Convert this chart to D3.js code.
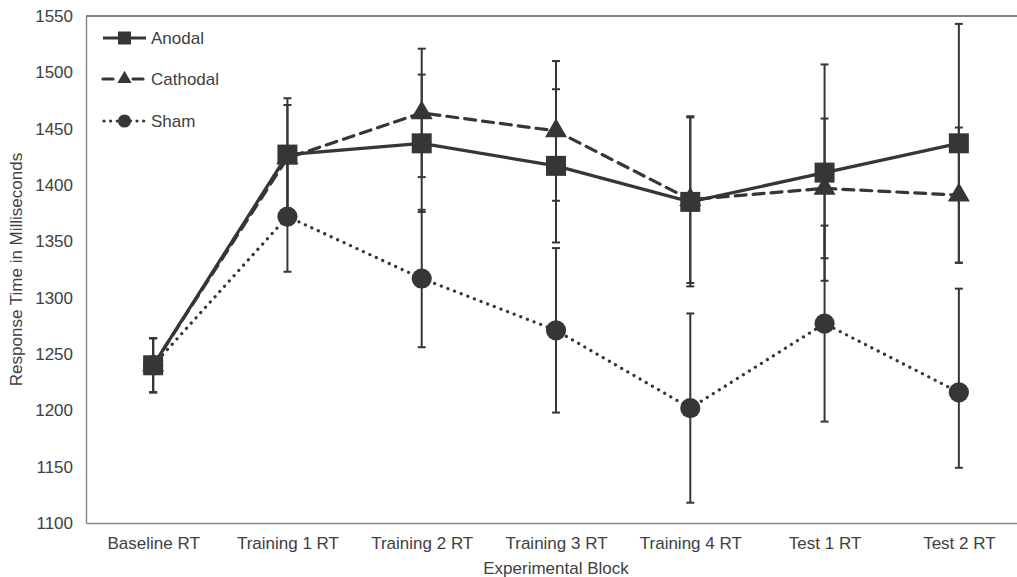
<!DOCTYPE html>
<html>
<head>
<meta charset="utf-8">
<script src="https://cdn.jsdelivr.net/npm/d3@7"></script>
<style>
    body { margin: 0; background: #fff; }
    #plot_rt text { font-family: "Liberation Sans", Arial, sans-serif; fill: #404040; }
</style>
</head>
<body>
<div id="plot_rt"></div>
<script>
// data
const categories = ["Baseline RT", "Training 1 RT", "Training 2 RT", "Training 3 RT", "Training 4 RT", "Test 1 RT", "Test 2 RT"];
const anodal = [1240, 1427, 1437, 1417, 1385, 1411, 1437];
const anodal_err = [24, 50, 61, 68, 75, 96, 106];
const cathodal = [1240, 1424, 1464, 1448, 1387, 1397, 1391];
const cathodal_err = [24, 47, 57, 62, 74, 62, 60];
const sham = [1240, 1372, 1317, 1271, 1202, 1277, 1216];
const sham_err = [24, 49, 61, 73, 84, 87, 92];
const sham_err_low = [24, 49, 61, 73, 84, 87, 67];
const y_ticks = [1100, 1150, 1200, 1250, 1300, 1350, 1400, 1450, 1500, 1550];

const series = [
    { name: "Anodal", values: anodal, err: anodal_err, err_low: anodal_err, dash: null, symbol: d3.symbolSquare, size: 400 },
    { name: "Cathodal", values: cathodal, err: cathodal_err, err_low: cathodal_err, dash: "11,7", symbol: d3.symbolTriangle, size: 210 },
    { name: "Sham", values: sham, err: sham_err, err_low: sham_err_low, dash: "0.1,7", symbol: d3.symbolCircle, size: 320 }
];

const ink = "#363636";
const window_w = 1017, window_h = 577;
const margin = { top: 16, left: 86, bottom: 54, right: -9 };

let svg = d3.select("#plot_rt")
    .append("svg")
    .attr("width", window_w)
    .attr("height", window_h);

// scales
const xScale = d3.scalePoint()
    .domain(categories)
    .range([margin.left, window_w - margin.right])
    .padding(0.5);

const yScale = d3.scaleLinear()
    .domain([1100, 1550])
    .range([window_h - margin.bottom, margin.top]);

// axes
const xAxis = d3.axisBottom(xScale).tickSize(0).tickPadding(14);
const yAxis = d3.axisLeft(yScale).tickValues(y_ticks).tickSize(0).tickPadding(13).tickFormat(d3.format("d"));

let axis = svg.append("g").attr("class", "axis");

axis.append("g")
    .attr("transform", `translate(0, ${yScale(1100)})`)
    .call(xAxis)
    .call(g => g.select(".domain").attr("stroke", "#8a8a8a").attr("stroke-width", 1.5))
    .call(g => g.selectAll("text").attr("font-size", "17px"));

axis.append("g")
    .attr("transform", `translate(${margin.left}, 0)`)
    .call(yAxis)
    .call(g => g.select(".domain").attr("stroke", "#8a8a8a").attr("stroke-width", 1.5))
    .call(g => g.selectAll("text").attr("font-size", "17px"));

// top border of the plot area
axis.append("line")
    .attr("x1", margin.left)
    .attr("x2", window_w)
    .attr("y1", yScale(1550))
    .attr("y2", yScale(1550))
    .attr("stroke", "#5a5a5a")
    .attr("stroke-width", 1.5);

// axis titles
svg.append("text")
    .attr("x", (margin.left + window_w - margin.right) / 2)
    .attr("y", 574)
    .attr("text-anchor", "middle")
    .attr("font-size", "17px")
    .text("Experimental Block");

svg.append("text")
    .attr("transform", "rotate(-90)")
    .attr("x", -(yScale(1100) + yScale(1550)) / 2)
    .attr("y", 22)
    .attr("text-anchor", "middle")
    .attr("font-size", "17px")
    .text("Response Time in Milliseconds");

let plot = svg.append("g").attr("class", "series");

// error bars
for (s of series) {
    let bars = plot.append("g").attr("class", "err");
    s.values.forEach(function (v, i) {
        const x = xScale(categories[i]);
        const y1 = yScale(v - s.err_low[i]), y2 = yScale(v + s.err[i]);
        bars.append("line")
            .attr("x1", x).attr("x2", x).attr("y1", y1).attr("y2", y2)
            .attr("stroke", ink).attr("stroke-width", 2);
        for (yy of [y1, y2]) {
            bars.append("line")
                .attr("x1", x - 4).attr("x2", x + 4).attr("y1", yy).attr("y2", yy)
                .attr("stroke", ink).attr("stroke-width", 2);
        }
    });
}

// lines and markers
const line = d3.line()
    .x((d, i) => xScale(categories[i]))
    .y(d => yScale(d));

for (s of series.slice().reverse()) {
    plot.append("path")
        .datum(s.values)
        .attr("d", line)
        .attr("fill", "none")
        .attr("stroke", ink)
        .attr("stroke-width", 3.2)
        .attr("stroke-linecap", s.dash ? "round" : "butt")
        .attr("stroke-dasharray", s.dash);

    plot.append("g")
        .selectAll("path")
        .data(s.values)
        .enter()
        .append("path")
        .attr("transform", (d, i) => `translate(${xScale(categories[i])}, ${yScale(d)})`)
        .attr("d", d3.symbol().type(s.symbol).size(s.size))
        .attr("fill", ink);
}

// legend
let legend = svg.append("g").attr("class", "legend");
const legend_y = [38, 79, 121];
series.forEach(function (s, i) {
    let row = legend.append("g").attr("transform", `translate(103, ${legend_y[i]})`);
    row.append("line")
        .attr("x1", 0).attr("x2", 43).attr("y1", 0).attr("y2", 0)
        .attr("stroke", ink)
        .attr("stroke-width", 3.2)
        .attr("stroke-linecap", s.dash ? "round" : "butt")
        .attr("stroke-dasharray", s.dash ? (s.name == "Sham" ? "0.1,6.5" : "10,20") : null)
        .attr("stroke-dashoffset", s.name == "Sham" ? -1 : 0);
    row.append("path")
        .attr("transform", "translate(21.5, 0)")
        .attr("d", d3.symbol().type(s.symbol).size(s.size * 0.42))
        .attr("fill", ink);
    row.append("text")
        .attr("x", 48)
        .attr("y", 6)
        .attr("font-size", "17px")
        .text(s.name);
});
</script>
</body>
</html>
